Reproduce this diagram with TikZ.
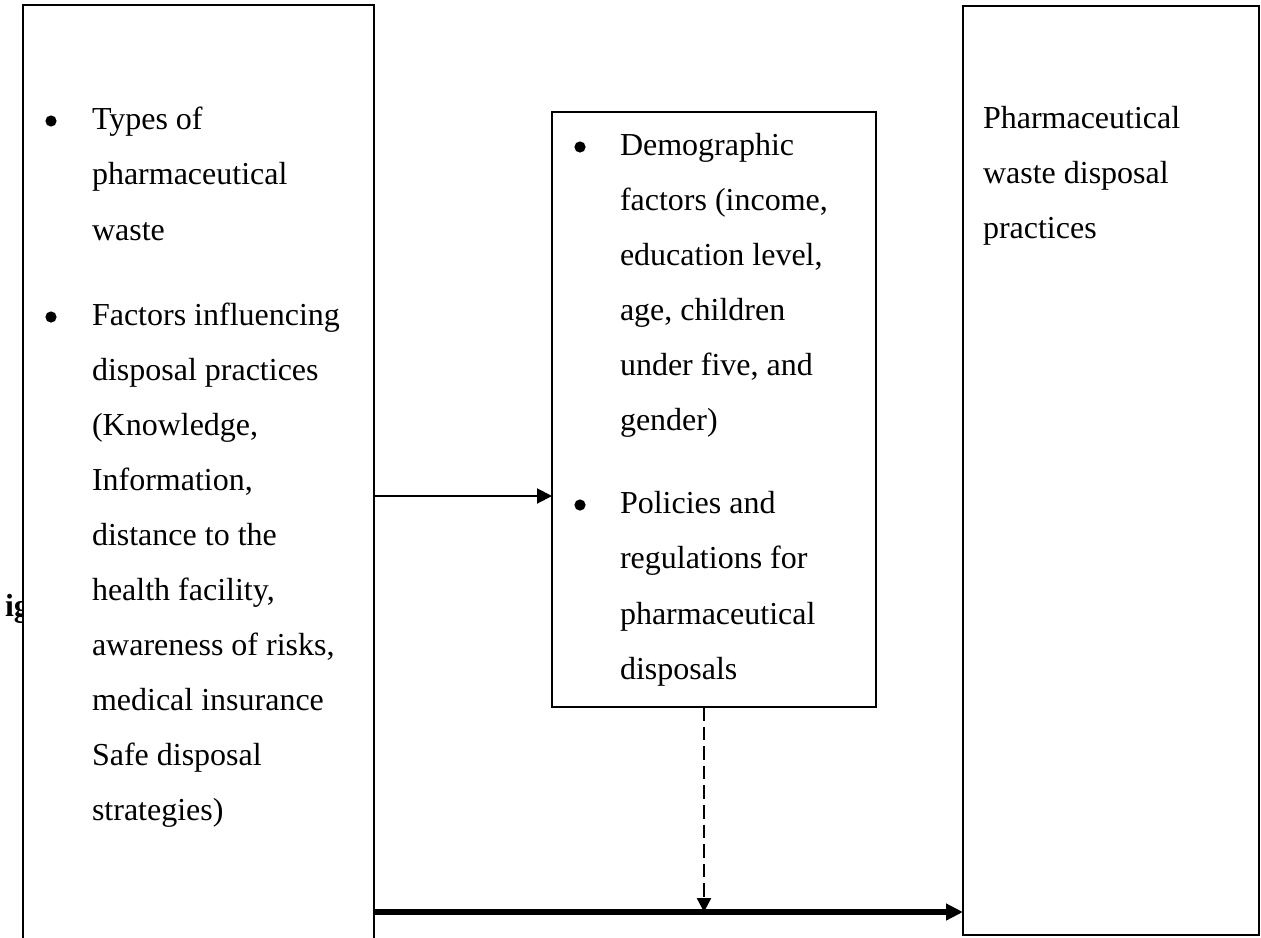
\documentclass[tikz,border=0pt]{standalone}
\usepackage{fontspec}
\setmainfont{Liberation Serif}
\usetikzlibrary{arrows.meta,calc}
\begin{document}
\begin{tikzpicture}[x=0.5pt,y=-0.5pt,
  box/.style={draw, line width=1pt, fill=white, inner sep=0pt, outer sep=0pt, anchor=north west},
  txt/.style={anchor=base west, inner sep=0pt, outer sep=0pt, font=\fontsize{16}{20}\selectfont},
  bul/.style={circle, fill=black, inner sep=0pt, outer sep=0pt, minimum size=5.6pt},
  thinconn/.style={line width=1pt, -{Triangle[length=7.5pt,width=7.5pt]}},
  thickconn/.style={line width=2.6pt, -{Triangle[length=8.5pt,width=8pt]}},
  dashconn/.style={line width=1.25pt, dash pattern=on 6.8pt off 3pt, -{Triangle[length=7pt,width=7pt]}}]
\useasboundingbox (0,0) rectangle (1261,937);
\clip (0,0) rectangle (1261,937);
\fill[white] (0,0) rectangle (1261,937);
% partly hidden caption text
\node[txt, font=\fontsize{16}{20}\selectfont\bfseries] (cap) at (5,616) {ig};
% boxes
\node[box, minimum width=175.5pt, minimum height=480pt] (L) at (23,5) {};
\node[box, minimum width=162pt, minimum height=297.5pt] (M) at (552,112) {};
\node[box, minimum width=148pt, minimum height=464.5pt] (R) at (963,6) {};
% left box text
\node[bul] (LB1) at (51,121) {};
\foreach \t [count=\i from 0] in {Types of, pharmaceutical, waste}
  \node[txt] (LA\i) at (92,{129+55.5*\i}) {\t};
\node[bul] (LB2) at (51,317) {};
\foreach \t [count=\i from 0] in {Factors influencing, disposal practices, {(Knowledge,}, {Information,}, distance to the, {health facility,}, {awareness of risks,}, medical insurance, Safe disposal, strategies)}
  \node[txt] (LC\i) at (92,{325+55*\i}) {\t};
% middle box text
\node[bul] (MB1) at (580,147) {};
\foreach \t [count=\i from 0] in {Demographic, {factors (income,}, {education level,}, {age, children}, {under five, and}, gender)}
  \node[txt] (MA\i) at (620,{155+55*\i}) {\t};
\node[bul] (MB2) at (580,505) {};
\foreach \t [count=\i from 0] in {Policies and, regulations for, pharmaceutical, disposals}
  \node[txt] (MC\i) at (620,{513+55.5*\i}) {\t};
% right box text
\foreach \t [count=\i from 0] in {Pharmaceutical, waste disposal, practices}
  \node[txt] (RA\i) at (983,{128+55*\i}) {\t};
% connectors
\coordinate (a1) at (0,496);
\coordinate (a2) at (0,912);
\coordinate (d) at (704,0);
\draw[thinconn] (L.east |- a1) -- (M.west |- a1);
\draw[thickconn] (L.east |- a2) -- (R.west |- a2);
\draw[dashconn] (M.south -| d) -- (d |- a2);
\end{tikzpicture}
\end{document}
